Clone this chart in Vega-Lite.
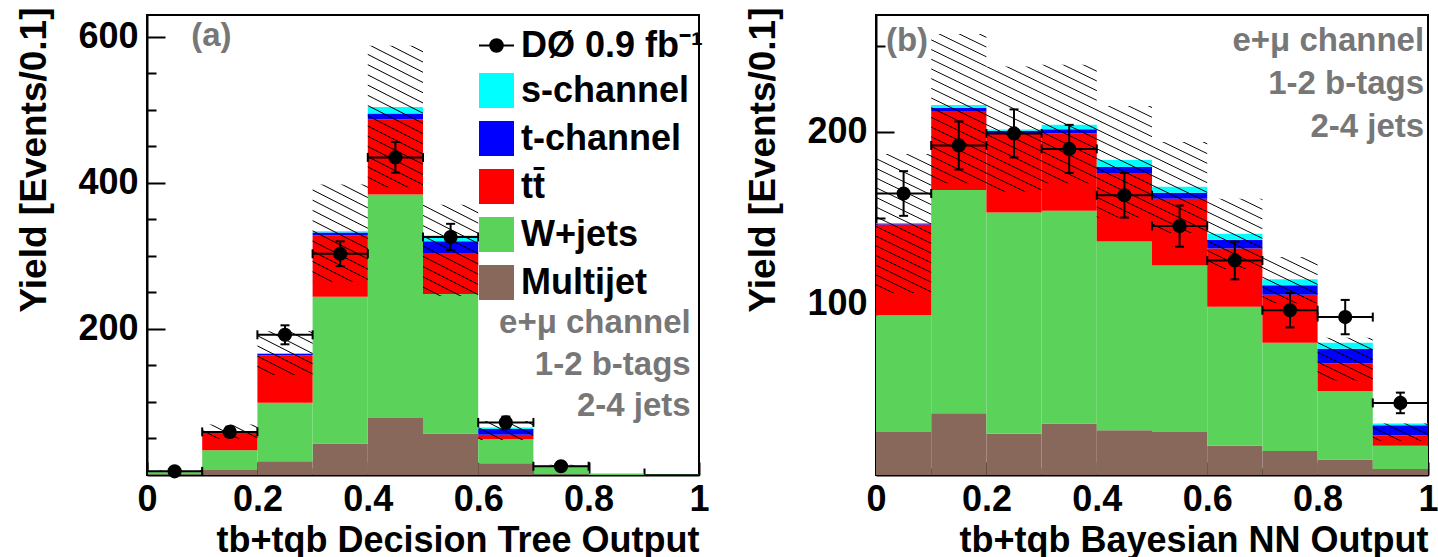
{
"$schema": "https://vega.github.io/schema/vega-lite/v6.json",
"padding": {"left": 14, "top": 5, "right": 0, "bottom": 0},
"background": "white",
"spacing": 32,
"datasets": {
"A": [
{"lo":0.0,"hi":0.1,"x":0.05,"mj":1,"w":5,"tt":5.3,"t":5.4,"s":5.5,"ulo":4.5,"uhi":6.5,"d":5,"dlo":3,"dhi":7.2},
{"lo":0.1,"hi":0.2,"x":0.15,"mj":7,"w":34,"tt":58,"t":59.5,"s":60.3,"ulo":50,"uhi":69,"d":59,"dlo":52,"dhi":66},
{"lo":0.2,"hi":0.3,"x":0.25,"mj":19,"w":99,"tt":164,"t":166,"s":167,"ulo":137,"uhi":197,"d":192,"dlo":179,"dhi":205},
{"lo":0.3,"hi":0.4,"x":0.35,"mj":43,"w":244,"tt":328,"t":332,"s":334,"ulo":265,"uhi":398,"d":303,"dlo":286,"dhi":320},
{"lo":0.4,"hi":0.5,"x":0.45,"mj":78,"w":384,"tt":487,"t":495,"s":504,"ulo":394,"uhi":588,"d":435,"dlo":414,"dhi":456},
{"lo":0.5,"hi":0.6,"x":0.55,"mj":57,"w":248,"tt":304,"t":320,"s":328,"ulo":245,"uhi":370,"d":326,"dlo":308,"dhi":344},
{"lo":0.6,"hi":0.7,"x":0.65,"mj":16,"w":49,"tt":55,"t":63,"s":65,"ulo":48,"uhi":74,"d":72,"dlo":64,"dhi":80},
{"lo":0.7,"hi":0.8,"x":0.75,"mj":1,"w":12,"tt":12.5,"t":12.8,"s":13,"ulo":11,"uhi":14,"d":12,"dlo":8.5,"dhi":15.5},
{"lo":0.8,"hi":0.9,"x":0.85,"mj":0,"w":2,"tt":2,"t":2,"s":2,"ulo":2,"uhi":2},
{"lo":0.9,"hi":1.0,"x":0.95,"mj":0,"w":0.3,"tt":0.3,"t":0.3,"s":0.3,"ulo":0.3,"uhi":0.3}
],
"B": [
{"lo":0.0,"hi":0.1,"x":0.05,"mj":25,"w":93,"tt":146,"t":146.5,"s":146.8,"ulo":106,"uhi":187,"d":164,"dlo":151,"dhi":177},
{"lo":0.1,"hi":0.2,"x":0.15,"mj":36,"w":166,"tt":212,"t":214,"s":215.5,"ulo":170,"uhi":257,"d":192,"dlo":178,"dhi":206},
{"lo":0.2,"hi":0.3,"x":0.25,"mj":24,"w":153,"tt":199,"t":200.5,"s":201.3,"ulo":165,"uhi":238,"d":199,"dlo":185,"dhi":213},
{"lo":0.3,"hi":0.4,"x":0.35,"mj":30,"w":154,"tt":199,"t":201.5,"s":204,"ulo":170,"uhi":239,"d":190,"dlo":176,"dhi":204},
{"lo":0.4,"hi":0.5,"x":0.45,"mj":26,"w":136,"tt":176,"t":179.5,"s":183.5,"ulo":150,"uhi":215,"d":163,"dlo":150,"dhi":176},
{"lo":0.5,"hi":0.6,"x":0.55,"mj":25,"w":122,"tt":161,"t":164.5,"s":168,"ulo":141,"uhi":194,"d":145,"dlo":133,"dhi":157},
{"lo":0.6,"hi":0.7,"x":0.65,"mj":17,"w":98,"tt":132,"t":137,"s":140.5,"ulo":120,"uhi":161,"d":125,"dlo":114,"dhi":136},
{"lo":0.7,"hi":0.8,"x":0.75,"mj":14,"w":77,"tt":105,"t":110.5,"s":114,"ulo":100,"uhi":127,"d":96,"dlo":86,"dhi":106},
{"lo":0.8,"hi":0.9,"x":0.85,"mj":9,"w":49,"tt":65,"t":73.5,"s":77,"ulo":55,"uhi":80,"d":92,"dlo":82,"dhi":102},
{"lo":0.9,"hi":1.0,"x":0.95,"mj":3.5,"w":17,"tt":23,"t":29,"s":30,"ulo":20,"uhi":30,"d":42,"dlo":36,"dhi":48}
]
},
"hconcat": [
{
"width": 552, "height": 460,
"data": {"name": "A"},
"layer": [
{"mark": {"type": "rect"},
 "encoding": {
  "x": {"field": "lo", "type": "quantitative", "scale": {"domain": [0, 1], "nice": false},
   "axis": {"title": "tb+tqb Decision Tree Output", "titleAnchor": "end", "labelFlush": false,
    "values": [0,0.05,0.1,0.15,0.2,0.25,0.3,0.35,0.4,0.45,0.5,0.55,0.6,0.65,0.7,0.75,0.8,0.85,0.9,0.95,1],
    "labelExpr": "abs(datum.value*5-round(datum.value*5))<0.001 ? format(datum.value,'~g') : ''",
    "tickSize": {"condition": {"test": "abs(datum.value*5-round(datum.value*5))<0.001", "value": -13}, "value": -7},
    "labelPadding": 20, "titlePadding": 6}},
  "x2": {"field": "hi"},
  "y": {"field": "mj", "type": "quantitative", "scale": {"domain": [0, 630], "nice": false},
   "axis": {"title": "Yield [Events/0.1]", "titleAnchor": "end", "titleY": -8, "labelFontSize": 36, "titleFontSize": 37,
    "values": [50,100,150,200,250,300,350,400,450,500,550,600],
    "labelExpr": "datum.value % 200 === 0 ? datum.label : ''",
    "tickSize": {"condition": {"test": "datum.value % 200 === 0", "value": -18}, "value": -9},
    "labelPadding": 27, "titlePadding": 24}},
  "y2": {"datum": 0},
  "color": {"datum": "Multijet", "type": "nominal",
   "scale": {"domain": ["DØ 0.9 fb⁻¹", "s-channel", "t-channel", "tt̄", "W+jets", "Multijet"],
             "range": ["black", "#00ffff", "#0000ff", "#ff0000", "#5bd35b", "#88685a"]},
   "legend": {"title": null, "orient": "none", "legendX": 331, "legendY": 12, "labelLimit": 400,
    "encode": {"symbols": {"update": {
      "shape": {"signal": "indexof(datum.label,'fb')>=0 ? 'M-1,0H1M-0.36,0A0.36,0.36,0,1,1,0.36,0A0.36,0.36,0,1,1,-0.36,0Z' : 'square'"},
      "stroke": {"signal": "indexof(datum.label,'fb')>=0 ? 'black' : 'transparent'"},
      "strokeWidth": {"value": 2}}}}}}
 }},
{"mark": {"type": "rect"}, "encoding": {"x": {"field": "lo", "type": "quantitative"}, "x2": {"field": "hi"}, "y": {"field": "w", "type": "quantitative"}, "y2": {"field": "mj"}, "color": {"datum": "W+jets", "type": "nominal"}}},
{"mark": {"type": "rect"}, "encoding": {"x": {"field": "lo", "type": "quantitative"}, "x2": {"field": "hi"}, "y": {"field": "tt", "type": "quantitative"}, "y2": {"field": "w"}, "color": {"datum": "tt̄", "type": "nominal"}}},
{"mark": {"type": "rect"}, "encoding": {"x": {"field": "lo", "type": "quantitative"}, "x2": {"field": "hi"}, "y": {"field": "t", "type": "quantitative"}, "y2": {"field": "tt"}, "color": {"datum": "t-channel", "type": "nominal"}}},
{"mark": {"type": "rect"}, "encoding": {"x": {"field": "lo", "type": "quantitative"}, "x2": {"field": "hi"}, "y": {"field": "s", "type": "quantitative"}, "y2": {"field": "t"}, "color": {"datum": "s-channel", "type": "nominal"}}},
{"transform": [{"fold": ["lo", "hi"], "as": ["edge", "ex"]}],
 "mark": {"type": "area", "opacity": 1, "strokeWidth": 0},
 "encoding": {"x": {"field": "ex", "type": "quantitative"}, "y": {"field": "uhi", "type": "quantitative"}, "y2": {"field": "ulo"}, "order": [{"field": "lo", "type": "quantitative"}, {"field": "ex", "type": "quantitative"}]}},
{"mark": {"type": "rule", "color": "black", "strokeWidth": 2}, "encoding": {"x": {"field": "x", "type": "quantitative"}, "y": {"field": "dlo", "type": "quantitative"}, "y2": {"field": "dhi"}}},
{"mark": {"type": "rule", "color": "black", "strokeWidth": 2}, "encoding": {"x": {"field": "lo", "type": "quantitative"}, "x2": {"field": "hi"}, "y": {"field": "d", "type": "quantitative"}}},
{"transform": [{"fold": ["dlo", "dhi"], "as": ["ek", "ev"]}],
 "mark": {"type": "tick", "orient": "horizontal", "size": 9, "thickness": 2, "color": "black", "opacity": 1},
 "encoding": {"x": {"field": "x", "type": "quantitative"}, "y": {"field": "ev", "type": "quantitative"}}},
{"transform": [{"filter": "isValid(datum.d)"}, {"fold": ["lo", "hi"], "as": ["ek", "ev"]}],
 "mark": {"type": "tick", "orient": "vertical", "size": 9, "thickness": 2, "color": "black", "opacity": 1},
 "encoding": {"x": {"field": "ev", "type": "quantitative"}, "y": {"field": "d", "type": "quantitative"}}},
{"mark": {"type": "point", "filled": true, "size": 200, "color": "black", "opacity": 1},
 "encoding": {"x": {"field": "x", "type": "quantitative"}, "y": {"field": "d", "type": "quantitative"}}},
{"data": {"values": [{}]},
 "mark": {"type": "text", "text": "(a)", "align": "left", "baseline": "middle", "fontSize": 33, "fontWeight": "bold", "color": "#777"},
 "encoding": {"x": {"datum": 0.08, "type": "quantitative"}, "y": {"datum": 601, "type": "quantitative"}}},
{"data": {"values": [{}]},
 "mark": {"type": "text", "text": ["e+μ channel", "1-2 b-tags", "2-4 jets"], "lineHeight": 41.5, "align": "right", "baseline": "alphabetic", "fontSize": 33, "fontWeight": "bold", "color": "#777"},
 "encoding": {"x": {"datum": 0.985, "type": "quantitative"}, "y": {"datum": 194, "type": "quantitative"}}}
]
},
{
"width": 552, "height": 460,
"data": {"name": "B"},
"layer": [
{"mark": {"type": "rect", "color": "#88685a"},
 "encoding": {
  "x": {"field": "lo", "type": "quantitative", "scale": {"domain": [0, 1], "nice": false},
   "axis": {"title": "tb+tqb Bayesian NN Output", "titleAnchor": "end", "labelFlush": false,
    "values": [0,0.05,0.1,0.15,0.2,0.25,0.3,0.35,0.4,0.45,0.5,0.55,0.6,0.65,0.7,0.75,0.8,0.85,0.9,0.95,1],
    "labelExpr": "abs(datum.value*5-round(datum.value*5))<0.001 ? format(datum.value,'~g') : ''",
    "tickSize": {"condition": {"test": "abs(datum.value*5-round(datum.value*5))<0.001", "value": -13}, "value": -7},
    "labelPadding": 20, "titlePadding": 6}},
  "x2": {"field": "hi"},
  "y": {"field": "mj", "type": "quantitative", "scale": {"domain": [0, 268], "nice": false},
   "axis": {"title": "Yield [Events/0.1]", "titleAnchor": "end", "titleY": -8, "labelFontSize": 36, "titleFontSize": 37,
    "values": [50,100,150,200,250],
    "labelExpr": "datum.value % 100 === 0 ? datum.label : ''",
    "tickSize": {"condition": {"test": "datum.value % 100 === 0", "value": -18}, "value": -9},
    "labelPadding": 27, "titlePadding": 24}},
  "y2": {"datum": 0}
 }},
{"mark": {"type": "rect", "color": "#5bd35b"}, "encoding": {"x": {"field": "lo", "type": "quantitative"}, "x2": {"field": "hi"}, "y": {"field": "w", "type": "quantitative"}, "y2": {"field": "mj"}}},
{"mark": {"type": "rect", "color": "#ff0000"}, "encoding": {"x": {"field": "lo", "type": "quantitative"}, "x2": {"field": "hi"}, "y": {"field": "tt", "type": "quantitative"}, "y2": {"field": "w"}}},
{"mark": {"type": "rect", "color": "#0000ff"}, "encoding": {"x": {"field": "lo", "type": "quantitative"}, "x2": {"field": "hi"}, "y": {"field": "t", "type": "quantitative"}, "y2": {"field": "tt"}}},
{"mark": {"type": "rect", "color": "#00ffff"}, "encoding": {"x": {"field": "lo", "type": "quantitative"}, "x2": {"field": "hi"}, "y": {"field": "s", "type": "quantitative"}, "y2": {"field": "t"}}},
{"transform": [{"fold": ["lo", "hi"], "as": ["edge", "ex"]}],
 "mark": {"type": "area", "opacity": 1, "strokeWidth": 0},
 "encoding": {"x": {"field": "ex", "type": "quantitative"}, "y": {"field": "uhi", "type": "quantitative"}, "y2": {"field": "ulo"}, "order": [{"field": "lo", "type": "quantitative"}, {"field": "ex", "type": "quantitative"}]}},
{"mark": {"type": "rule", "color": "black", "strokeWidth": 2}, "encoding": {"x": {"field": "x", "type": "quantitative"}, "y": {"field": "dlo", "type": "quantitative"}, "y2": {"field": "dhi"}}},
{"mark": {"type": "rule", "color": "black", "strokeWidth": 2}, "encoding": {"x": {"field": "lo", "type": "quantitative"}, "x2": {"field": "hi"}, "y": {"field": "d", "type": "quantitative"}}},
{"transform": [{"fold": ["dlo", "dhi"], "as": ["ek", "ev"]}],
 "mark": {"type": "tick", "orient": "horizontal", "size": 9, "thickness": 2, "color": "black", "opacity": 1},
 "encoding": {"x": {"field": "x", "type": "quantitative"}, "y": {"field": "ev", "type": "quantitative"}}},
{"transform": [{"filter": "isValid(datum.d)"}, {"fold": ["lo", "hi"], "as": ["ek", "ev"]}],
 "mark": {"type": "tick", "orient": "vertical", "size": 9, "thickness": 2, "color": "black", "opacity": 1},
 "encoding": {"x": {"field": "ev", "type": "quantitative"}, "y": {"field": "d", "type": "quantitative"}}},
{"mark": {"type": "point", "filled": true, "size": 200, "color": "black", "opacity": 1},
 "encoding": {"x": {"field": "x", "type": "quantitative"}, "y": {"field": "d", "type": "quantitative"}}},
{"data": {"values": [{}]},
 "mark": {"type": "text", "text": "(b)", "align": "left", "baseline": "middle", "fontSize": 33, "fontWeight": "bold", "color": "#777"},
 "encoding": {"x": {"datum": 0.018, "type": "quantitative"}, "y": {"datum": 253, "type": "quantitative"}}},
{"data": {"values": [{}]},
 "mark": {"type": "text", "text": ["e+μ channel", "1-2 b-tags", "2-4 jets"], "lineHeight": 43, "align": "right", "baseline": "alphabetic", "fontSize": 33, "fontWeight": "bold", "color": "#777"},
 "encoding": {"x": {"datum": 0.993, "type": "quantitative"}, "y": {"datum": 247, "type": "quantitative"}}}
]
}
],
"config": {
"font": "Liberation Sans",
"view": {"stroke": "black", "strokeWidth": 2},
"axis": {"grid": false, "domain": true, "domainColor": "black", "domainWidth": 2, "zindex": 1,
  "labelFont": "Liberation Sans", "labelFontSize": 36, "labelFontWeight": "bold", "labelColor": "black",
  "titleFont": "Liberation Sans", "titleFontSize": 36, "titleFontWeight": "bold", "titleColor": "black",
  "tickColor": "black", "tickWidth": 2},
"legend": {"labelFont": "Liberation Sans", "labelFontSize": 36, "labelFontWeight": "bold", "labelColor": "black",
  "symbolSize": 1225, "symbolType": "square", "rowPadding": 5, "labelOffset": 6, "padding": 0, "symbolStrokeWidth": 0, "symbolOpacity": 1},
"area": {"fill": {"gradient": "linear", "x1": 0, "y1": 1, "x2": 0.91, "y2": -0.39, "stops": [
{"offset":0,"color":"#0000"},{"offset":0.0012,"color":"#000"},{"offset":0.0024,"color":"#0000"},
{"offset":0.012,"color":"#0000"},{"offset":0.0132,"color":"#000"},{"offset":0.0144,"color":"#0000"},
{"offset":0.024,"color":"#0000"},{"offset":0.0252,"color":"#000"},{"offset":0.0264,"color":"#0000"},
{"offset":0.036,"color":"#0000"},{"offset":0.0372,"color":"#000"},{"offset":0.0384,"color":"#0000"},
{"offset":0.048,"color":"#0000"},{"offset":0.0492,"color":"#000"},{"offset":0.0504,"color":"#0000"},
{"offset":0.06,"color":"#0000"},{"offset":0.0612,"color":"#000"},{"offset":0.0624,"color":"#0000"},
{"offset":0.072,"color":"#0000"},{"offset":0.0732,"color":"#000"},{"offset":0.0744,"color":"#0000"},
{"offset":0.084,"color":"#0000"},{"offset":0.0852,"color":"#000"},{"offset":0.0864,"color":"#0000"},
{"offset":0.096,"color":"#0000"},{"offset":0.0972,"color":"#000"},{"offset":0.0984,"color":"#0000"},
{"offset":0.108,"color":"#0000"},{"offset":0.1092,"color":"#000"},{"offset":0.1104,"color":"#0000"},
{"offset":0.12,"color":"#0000"},{"offset":0.1212,"color":"#000"},{"offset":0.1224,"color":"#0000"},
{"offset":0.132,"color":"#0000"},{"offset":0.1332,"color":"#000"},{"offset":0.1344,"color":"#0000"},
{"offset":0.144,"color":"#0000"},{"offset":0.1452,"color":"#000"},{"offset":0.1464,"color":"#0000"},
{"offset":0.156,"color":"#0000"},{"offset":0.1572,"color":"#000"},{"offset":0.1584,"color":"#0000"},
{"offset":0.168,"color":"#0000"},{"offset":0.1692,"color":"#000"},{"offset":0.1704,"color":"#0000"},
{"offset":0.18,"color":"#0000"},{"offset":0.1812,"color":"#000"},{"offset":0.1824,"color":"#0000"},
{"offset":0.192,"color":"#0000"},{"offset":0.1932,"color":"#000"},{"offset":0.1944,"color":"#0000"},
{"offset":0.204,"color":"#0000"},{"offset":0.2052,"color":"#000"},{"offset":0.2064,"color":"#0000"},
{"offset":0.216,"color":"#0000"},{"offset":0.2172,"color":"#000"},{"offset":0.2184,"color":"#0000"},
{"offset":0.228,"color":"#0000"},{"offset":0.2292,"color":"#000"},{"offset":0.2304,"color":"#0000"},
{"offset":0.24,"color":"#0000"},{"offset":0.2412,"color":"#000"},{"offset":0.2424,"color":"#0000"},
{"offset":0.252,"color":"#0000"},{"offset":0.2532,"color":"#000"},{"offset":0.2544,"color":"#0000"},
{"offset":0.264,"color":"#0000"},{"offset":0.2652,"color":"#000"},{"offset":0.2664,"color":"#0000"},
{"offset":0.276,"color":"#0000"},{"offset":0.2772,"color":"#000"},{"offset":0.2784,"color":"#0000"},
{"offset":0.288,"color":"#0000"},{"offset":0.2892,"color":"#000"},{"offset":0.2904,"color":"#0000"},
{"offset":0.3,"color":"#0000"},{"offset":0.3012,"color":"#000"},{"offset":0.3024,"color":"#0000"},
{"offset":0.312,"color":"#0000"},{"offset":0.3132,"color":"#000"},{"offset":0.3144,"color":"#0000"},
{"offset":0.324,"color":"#0000"},{"offset":0.3252,"color":"#000"},{"offset":0.3264,"color":"#0000"},
{"offset":0.336,"color":"#0000"},{"offset":0.3372,"color":"#000"},{"offset":0.3384,"color":"#0000"},
{"offset":0.348,"color":"#0000"},{"offset":0.3492,"color":"#000"},{"offset":0.3504,"color":"#0000"},
{"offset":0.36,"color":"#0000"},{"offset":0.3612,"color":"#000"},{"offset":0.3624,"color":"#0000"},
{"offset":0.372,"color":"#0000"},{"offset":0.3732,"color":"#000"},{"offset":0.3744,"color":"#0000"},
{"offset":0.384,"color":"#0000"},{"offset":0.3852,"color":"#000"},{"offset":0.3864,"color":"#0000"},
{"offset":0.396,"color":"#0000"},{"offset":0.3972,"color":"#000"},{"offset":0.3984,"color":"#0000"},
{"offset":0.408,"color":"#0000"},{"offset":0.4092,"color":"#000"},{"offset":0.4104,"color":"#0000"},
{"offset":0.42,"color":"#0000"},{"offset":0.4212,"color":"#000"},{"offset":0.4224,"color":"#0000"},
{"offset":0.432,"color":"#0000"},{"offset":0.4332,"color":"#000"},{"offset":0.4344,"color":"#0000"},
{"offset":0.444,"color":"#0000"},{"offset":0.4452,"color":"#000"},{"offset":0.4464,"color":"#0000"},
{"offset":0.456,"color":"#0000"},{"offset":0.4572,"color":"#000"},{"offset":0.4584,"color":"#0000"},
{"offset":0.468,"color":"#0000"},{"offset":0.4692,"color":"#000"},{"offset":0.4704,"color":"#0000"},
{"offset":0.48,"color":"#0000"},{"offset":0.4812,"color":"#000"},{"offset":0.4824,"color":"#0000"},
{"offset":0.492,"color":"#0000"},{"offset":0.4932,"color":"#000"},{"offset":0.4944,"color":"#0000"},
{"offset":0.504,"color":"#0000"},{"offset":0.5052,"color":"#000"},{"offset":0.5064,"color":"#0000"},
{"offset":0.516,"color":"#0000"},{"offset":0.5172,"color":"#000"},{"offset":0.5184,"color":"#0000"},
{"offset":0.528,"color":"#0000"},{"offset":0.5292,"color":"#000"},{"offset":0.5304,"color":"#0000"},
{"offset":0.54,"color":"#0000"},{"offset":0.5412,"color":"#000"},{"offset":0.5424,"color":"#0000"},
{"offset":0.552,"color":"#0000"},{"offset":0.5532,"color":"#000"},{"offset":0.5544,"color":"#0000"},
{"offset":0.564,"color":"#0000"},{"offset":0.5652,"color":"#000"},{"offset":0.5664,"color":"#0000"},
{"offset":0.576,"color":"#0000"},{"offset":0.5772,"color":"#000"},{"offset":0.5784,"color":"#0000"},
{"offset":0.588,"color":"#0000"},{"offset":0.5892,"color":"#000"},{"offset":0.5904,"color":"#0000"},
{"offset":0.6,"color":"#0000"},{"offset":0.6012,"color":"#000"},{"offset":0.6024,"color":"#0000"},
{"offset":0.612,"color":"#0000"},{"offset":0.6132,"color":"#000"},{"offset":0.6144,"color":"#0000"},
{"offset":0.624,"color":"#0000"},{"offset":0.6252,"color":"#000"},{"offset":0.6264,"color":"#0000"},
{"offset":0.636,"color":"#0000"},{"offset":0.6372,"color":"#000"},{"offset":0.6384,"color":"#0000"},
{"offset":0.648,"color":"#0000"},{"offset":0.6492,"color":"#000"},{"offset":0.6504,"color":"#0000"},
{"offset":0.66,"color":"#0000"},{"offset":0.6612,"color":"#000"},{"offset":0.6624,"color":"#0000"},
{"offset":0.672,"color":"#0000"},{"offset":0.6732,"color":"#000"},{"offset":0.6744,"color":"#0000"},
{"offset":0.684,"color":"#0000"},{"offset":0.6852,"color":"#000"},{"offset":0.6864,"color":"#0000"},
{"offset":0.696,"color":"#0000"},{"offset":0.6972,"color":"#000"},{"offset":0.6984,"color":"#0000"},
{"offset":0.708,"color":"#0000"},{"offset":0.7092,"color":"#000"},{"offset":0.7104,"color":"#0000"},
{"offset":0.72,"color":"#0000"},{"offset":0.7212,"color":"#000"},{"offset":0.7224,"color":"#0000"},
{"offset":0.732,"color":"#0000"},{"offset":0.7332,"color":"#000"},{"offset":0.7344,"color":"#0000"},
{"offset":0.744,"color":"#0000"},{"offset":0.7452,"color":"#000"},{"offset":0.7464,"color":"#0000"},
{"offset":0.756,"color":"#0000"},{"offset":0.7572,"color":"#000"},{"offset":0.7584,"color":"#0000"},
{"offset":0.768,"color":"#0000"},{"offset":0.7692,"color":"#000"},{"offset":0.7704,"color":"#0000"},
{"offset":0.78,"color":"#0000"},{"offset":0.7812,"color":"#000"},{"offset":0.7824,"color":"#0000"},
{"offset":0.792,"color":"#0000"},{"offset":0.7932,"color":"#000"},{"offset":0.7944,"color":"#0000"},
{"offset":0.804,"color":"#0000"},{"offset":0.8052,"color":"#000"},{"offset":0.8064,"color":"#0000"},
{"offset":0.816,"color":"#0000"},{"offset":0.8172,"color":"#000"},{"offset":0.8184,"color":"#0000"},
{"offset":0.828,"color":"#0000"},{"offset":0.8292,"color":"#000"},{"offset":0.8304,"color":"#0000"},
{"offset":0.84,"color":"#0000"},{"offset":0.8412,"color":"#000"},{"offset":0.8424,"color":"#0000"},
{"offset":0.852,"color":"#0000"},{"offset":0.8532,"color":"#000"},{"offset":0.8544,"color":"#0000"},
{"offset":0.864,"color":"#0000"},{"offset":0.8652,"color":"#000"},{"offset":0.8664,"color":"#0000"},
{"offset":0.876,"color":"#0000"},{"offset":0.8772,"color":"#000"},{"offset":0.8784,"color":"#0000"},
{"offset":0.888,"color":"#0000"},{"offset":0.8892,"color":"#000"},{"offset":0.8904,"color":"#0000"},
{"offset":0.9,"color":"#0000"},{"offset":0.9012,"color":"#000"},{"offset":0.9024,"color":"#0000"},
{"offset":0.912,"color":"#0000"},{"offset":0.9132,"color":"#000"},{"offset":0.9144,"color":"#0000"},
{"offset":0.924,"color":"#0000"},{"offset":0.9252,"color":"#000"},{"offset":0.9264,"color":"#0000"},
{"offset":0.936,"color":"#0000"},{"offset":0.9372,"color":"#000"},{"offset":0.9384,"color":"#0000"},
{"offset":0.948,"color":"#0000"},{"offset":0.9492,"color":"#000"},{"offset":0.9504,"color":"#0000"},
{"offset":0.96,"color":"#0000"},{"offset":0.9612,"color":"#000"},{"offset":0.9624,"color":"#0000"},
{"offset":0.972,"color":"#0000"},{"offset":0.9732,"color":"#000"},{"offset":0.9744,"color":"#0000"},
{"offset":0.984,"color":"#0000"},{"offset":0.9852,"color":"#000"},{"offset":0.9864,"color":"#0000"},
{"offset":0.996,"color":"#0000"},{"offset":0.9972,"color":"#000"},{"offset":0.9984,"color":"#0000"}
]}}
}
}
